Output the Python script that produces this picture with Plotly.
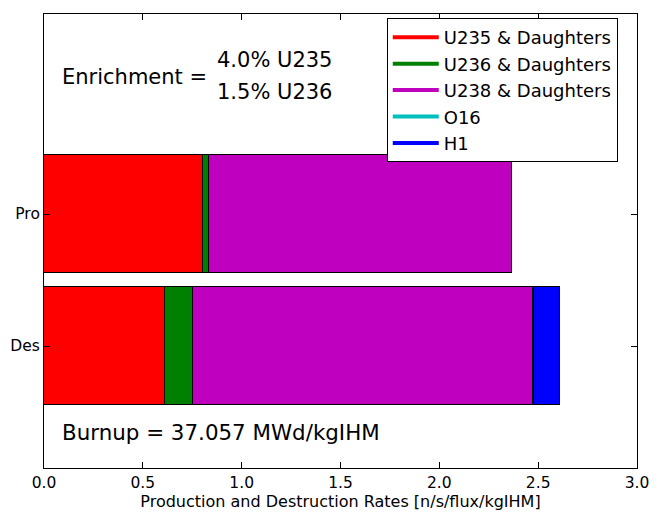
import plotly.graph_objects as go

categories = ["Des", "Pro"]
cat_pos = [0, 1]
series_names = ["U235 & Daughters", "U236 & Daughters", "U238 & Daughters", "O16", "H1"]
series_colors = ["#ff0000", "#008000", "#bf00bf", "#00bfbf", "#0000ff"]
# values per series: [Des, Pro]
u235 = [0.614, 0.804]
u236 = [0.141, 0.031]
u238 = [1.717, 1.533]
o16 = [0.006, 0.0]
h1 = [0.132, 0.0]
series_values = [u235, u236, u238, o16, h1]
xticks = [0.0, 0.5, 1.0, 1.5, 2.0, 2.5, 3.0]

fig = go.Figure()
for name, col, vals in zip(series_names, series_colors, series_values):
    fig.add_trace(go.Bar(y=cat_pos, x=vals, orientation="h", width=0.9,
                         marker=dict(color=col, line=dict(color="black", width=1)),
                         showlegend=False, name=name))
for name, col in zip(series_names, series_colors):
    fig.add_trace(go.Scatter(x=[None], y=[None], mode="lines", name=name,
                             line=dict(color=col, width=4)))

fig.update_layout(
    barmode="stack",
    width=657, height=517,
    margin=dict(l=44, r=20, t=14, b=49, autoexpand=False),
    paper_bgcolor="white", plot_bgcolor="white",
    font=dict(family="DejaVu Sans", size=15.5, color="black"),
    bargap=0,
    legend=dict(x=0.578, y=0.991, xanchor="left", yanchor="top", traceorder="normal",
                bordercolor="black", borderwidth=1, bgcolor="white",
                font=dict(size=18), tracegroupgap=0, itemwidth=46),
    xaxis=dict(range=[0, 3.0], tickvals=xticks, ticktext=[f"{v:.1f}" for v in xticks],
               ticks="inside", ticklen=6, tickcolor="black", showline=True, linecolor="black",
               linewidth=1, mirror="allticks", showgrid=False, zeroline=False, automargin=False,
               title=dict(text="Production and Destruction Rates [n/s/flux/kgIHM]", font=dict(size=16), standoff=1)),
    yaxis=dict(range=[-0.924, 2.515], tickvals=cat_pos, ticktext=categories,
               ticks="inside", ticklen=6, tickcolor="black", showline=True, linecolor="black",
               linewidth=1, mirror="allticks", showgrid=False, zeroline=False, automargin=False),
)
fig.add_annotation(x=0.081, y=2.038, xref="x", yref="y", text="Enrichment =", showarrow=False,
                   xanchor="left", yanchor="middle", font=dict(size=21))
fig.add_annotation(x=0.865, y=2.167, xref="x", yref="y", text="4.0% U235", showarrow=False,
                   xanchor="left", yanchor="middle", font=dict(size=21))
fig.add_annotation(x=0.865, y=1.924, xref="x", yref="y", text="1.5% U236", showarrow=False,
                   xanchor="left", yanchor="middle", font=dict(size=21))
fig.add_annotation(x=0.081, y=-0.652, xref="x", yref="y", text="Burnup = 37.057 MWd/kgIHM", showarrow=False,
                   xanchor="left", yanchor="middle", font=dict(size=21.4))
fig.write_html("out.html")
